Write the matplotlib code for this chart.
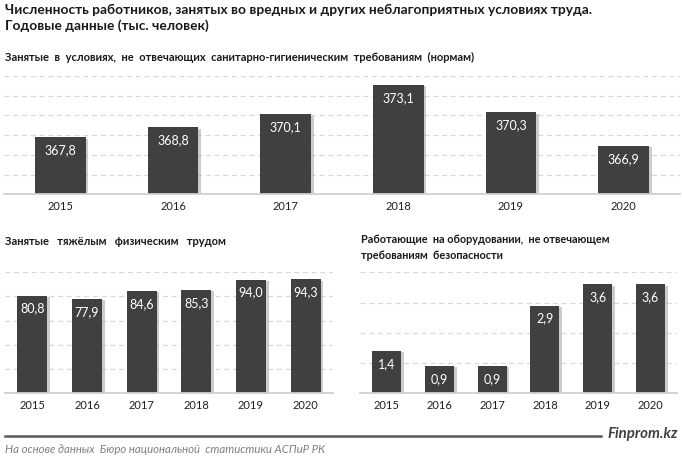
import matplotlib.pyplot as plt
import matplotlib.patheffects as pe
import numpy as np

plt.rcParams['font.family'] = ['Lato', 'Roboto', 'DejaVu Sans']

years = ['2015', '2016', '2017', '2018', '2019', '2020']
sanitary = [367.8, 368.8, 370.1, 373.1, 370.3, 366.9]
heavy = [80.8, 77.9, 84.6, 85.3, 94.0, 94.3]
equipment = [1.4, 0.9, 0.9, 2.9, 3.6, 3.6]

title = ('Численность работников, занятых во вредных и других неблагоприятных условиях труда.\n'
         'Годовые данные (тыс. человек)')
sub_top = 'Занятые  в  условиях,  не  отвечающих  санитарно-гигиеническим  требованиям  (нормам)'
sub_left = 'Занятые   тяжёлым   физическим   трудом'
sub_right = 'Работающие  на оборудовании,  не отвечающем\nтребованиям  безопасности'

BAR = '#404040'
W, H = 682, 461

fig = plt.figure(figsize=(W / 100, H / 100), dpi=100)


def px_axes(x0, x1, ytop, ybot):
    return fig.add_axes([x0 / W, 1 - ybot / H, (x1 - x0) / W, (ybot - ytop) / H])


def bar_panel(ax, values, ylim, step, width):
    x = np.arange(len(values))
    ax.set_xlim(-0.5, len(values) - 0.5)
    ax.set_ylim(*ylim)
    for g in np.arange(ylim[0] + step, ylim[1] + step / 2, step):
        ax.axhline(g, color='#d9d9d9', lw=0.9, ls=(0, (4, 3)), zorder=0)
    bars = ax.bar(x, [v - ylim[0] for v in values], width, bottom=ylim[0],
                  color=BAR, zorder=2)
    for b in bars:
        b.set_path_effects([pe.SimplePatchShadow(offset=(2, -1), shadow_rgbFace='#9a9a9a', alpha=0.5),
                            pe.Normal()])
    for xi, v in zip(x, values):
        ax.annotate(f'{v:.1f}'.replace('.', ','), (xi, v), xytext=(0, -9.4),
                    textcoords='offset points', ha='center', va='center',
                    color='white', fontsize=9, zorder=3)
    ax.set_yticks([])
    ax.set_xticks(x)
    ax.set_xticklabels(years, fontsize=8, color='#1f1f1f')
    ax.tick_params(axis='x', length=0, pad=5)
    for s in ['top', 'right', 'left']:
        ax.spines[s].set_visible(False)
    ax.spines['bottom'].set_color('#d0d0d0')
    ax.spines['bottom'].set_linewidth(1.3)
    ax.set_facecolor('none')


ax1 = px_axes(4, 680, 76, 194.3)
bar_panel(ax1, sanitary, (362, 374), 2, 0.45)

ax2 = px_axes(5, 333, 272.3, 393.3)
bar_panel(ax2, heavy, (0, 100), 20, 0.55)

ax3 = px_axes(360, 677, 272.3, 393.3)
bar_panel(ax3, equipment, (0, 4), 1, 0.55)

fig.text(5 / W, 1 - 3.5 / H, title, fontsize=9.9, fontweight='bold', color='#1a1a1a',
         va='top', ha='left', linespacing=1.35)
fig.text(5 / W, 1 - 57 / H, sub_top, fontsize=8.0, fontweight='bold', color='#1a1a1a',
         va='center', ha='left')
fig.text(5 / W, 1 - 241.7 / H, sub_left, fontsize=8.0, fontweight='bold', color='#1a1a1a',
         va='center', ha='left')
fig.text(360.7 / W, 1 - 234 / H, sub_right, fontsize=7.8, fontweight='bold', color='#1a1a1a',
         va='top', ha='left', linespacing=1.55)

# footer
fig.add_artist(plt.Line2D([5 / W, 601 / W], [1 - 435.5 / H, 1 - 435.5 / H],
                          color='#595959', lw=1.8))
fig.text(678 / W, 1 - 434 / H, 'Finprom.kz', fontsize=10.8, fontweight='bold',
         style='italic', color='#404040', ha='right', va='center')
fig.text(5 / W, 1 - 449 / H, 'На основе данных  Бюро национальной  статистики АСПиР РК',
         fontsize=8.2, style='italic', color='#7f7f7f', ha='left', va='center')

fig.savefig('out.png', dpi=100)
